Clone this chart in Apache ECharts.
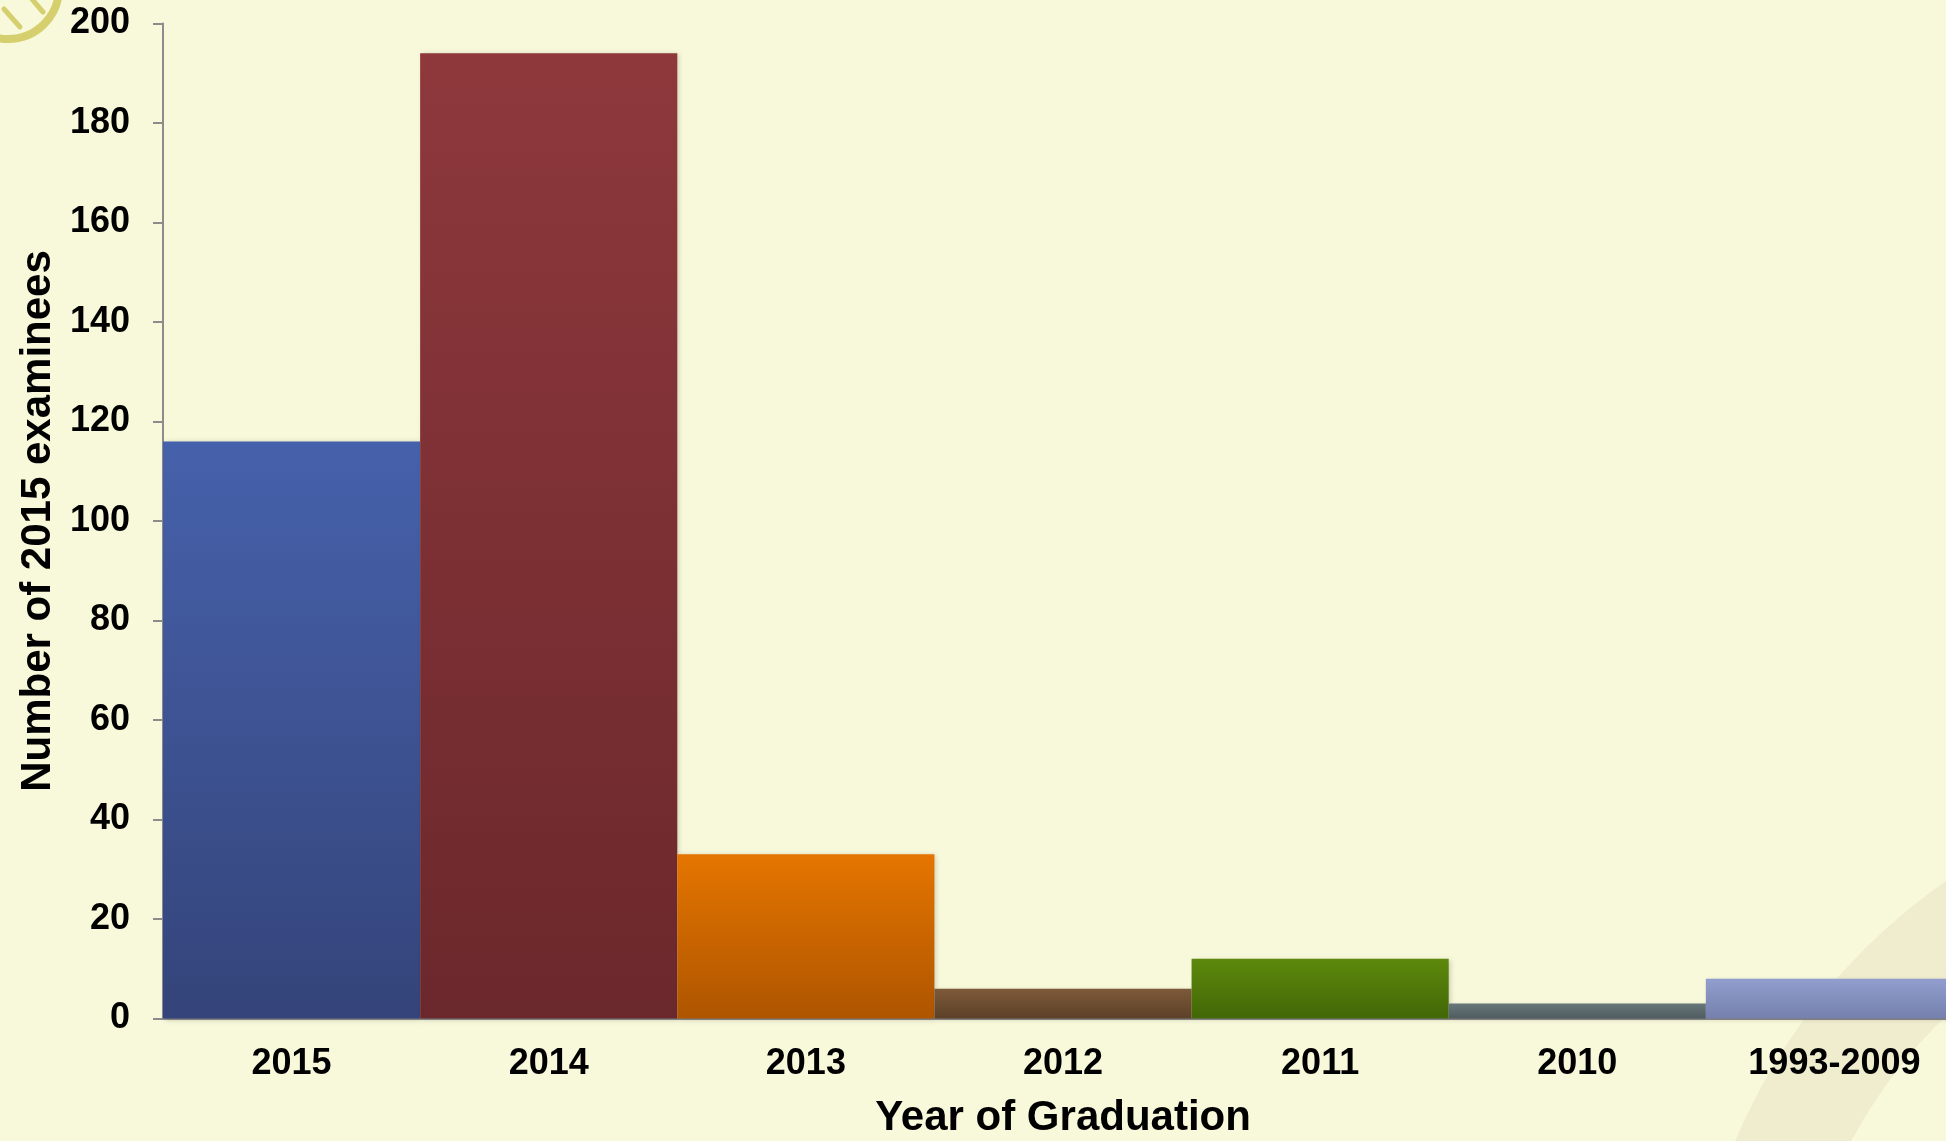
<!DOCTYPE html>
<html>
<head>
<meta charset="utf-8">
<script src="https://cdn.jsdelivr.net/npm/echarts@6/dist/echarts.min.js"></script>
<style>
  html, body { margin: 0; padding: 0; background: #f8f8da; }
  #chart { width: 1946px; height: 1141px; }
</style>
</head>
<body>
<div id="chart"></div>
<script>
// data
const categories = ["2015", "2014", "2013", "2012", "2011", "2010", "1993-2009"];
const examinees = [116, 194, 33, 6, 12, 3, 8];
const yTicks = { min: 0, max: 200, interval: 20 };

// bar colours, top -> bottom of the gradient
const topColors = ["#4661ab", "#8e383c", "#e57500", "#7d5a3a", "#5d890c", "#67777a", "#929ecd"];
const bottomColors = ["#34447a", "#6b282c", "#ae5500", "#5c4028", "#426707", "#505c5f", "#7580ad"];

const font = "'Liberation Sans', Arial, Helvetica, sans-serif";

const chart = echarts.init(document.getElementById("chart"));

const option = {
  backgroundColor: "#f8f8da",
  animation: false,
  // background decorations (logo arc top-left, faint band bottom-right)
  graphic: [
    {
      type: "ring",
      z: -10,
      silent: true,
      shape: { cx: 2288, cy: 1374, r: 600, r0: 495 },
      style: { fill: "#f0edcf" },
    },
    {
      type: "arc",
      z: -10,
      silent: true,
      shape: { cx: 8, cy: -12, r: 51, startAngle: 0, endAngle: Math.PI },
      style: { stroke: "#d6cf6e", lineWidth: 8, fill: null },
    },
    {
      type: "line",
      z: -10,
      silent: true,
      shape: { x1: 4, y1: 9, x2: 20, y2: 27 },
      style: { stroke: "#d6cf6e", lineWidth: 5, lineCap: "round" },
    },
    {
      type: "line",
      z: -10,
      silent: true,
      shape: { x1: 31, y1: -2, x2: 43, y2: 12 },
      style: { stroke: "#d6cf6e", lineWidth: 5, lineCap: "round" },
    },
  ],
  grid: {
    left: 163,
    right: -17,
    top: 23.5,
    bottom: 122.5,
    containLabel: false,
    outerBoundsMode: "none",
  },
  xAxis: {
    type: "category",
    data: categories,
    name: "Year of Graduation",
    nameLocation: "middle",
    nameGap: 79,
    nameTextStyle: { color: "#000", fontSize: 42, fontWeight: "bold", fontFamily: font },
    axisLine: { show: true, lineStyle: { color: "#8c8c8c", width: 2 } },
    axisTick: { show: false },
    axisLabel: {
      color: "#000",
      fontSize: 36,
      fontWeight: "bold",
      fontFamily: font,
      margin: 28,
      interval: 0,
    },
    splitLine: { show: false },
  },
  yAxis: {
    type: "value",
    min: yTicks.min,
    max: yTicks.max,
    interval: yTicks.interval,
    name: "Number of 2015 examinees",
    nameLocation: "middle",
    nameGap: 102,
    nameTextStyle: { color: "#000", fontSize: 42, fontWeight: "bold", fontFamily: font },
    axisLine: { show: true, lineStyle: { color: "#8c8c8c", width: 2 } },
    axisTick: { show: true, length: 10, lineStyle: { color: "#8c8c8c", width: 2 } },
    axisLabel: {
      color: "#000",
      fontSize: 36,
      fontWeight: "bold",
      fontFamily: font,
      margin: 33,
    },
    splitLine: { show: false },
  },
  series: [
    {
      type: "bar",
      barCategoryGap: 0,
      data: examinees.map((v, i) => ({
        value: v,
        itemStyle: {
          color: new echarts.graphic.LinearGradient(0, 0, 0, 1, [
            { offset: 0, color: topColors[i] },
            { offset: 1, color: bottomColors[i] },
          ]),
          shadowColor: "rgba(0, 0, 0, 0.18)",
          shadowBlur: 5,
          shadowOffsetX: 2,
          shadowOffsetY: 1,
        },
      })),
    },
  ],
};

chart.setOption(option);
</script>
</body>
</html>
